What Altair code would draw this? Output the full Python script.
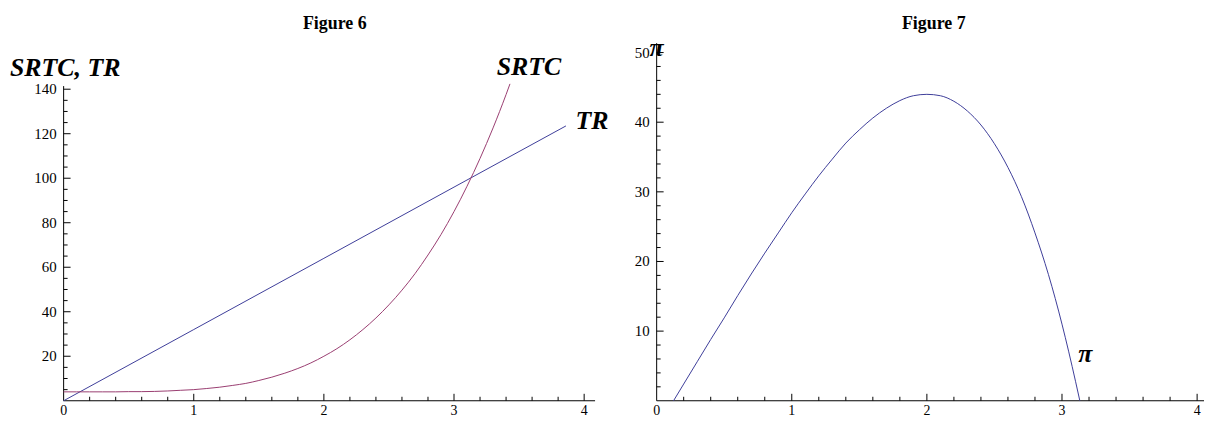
import altair as alt
import pandas as pd

# ---------------- data ----------------
# Figure 6
srtc_x = [0.0, 0.1, 0.2, 0.3, 0.4, 0.5, 0.6, 0.7, 0.8, 0.9, 1.0, 1.1, 1.2, 1.3, 1.4,
          1.5, 1.6, 1.7, 1.8, 1.9, 2.0, 2.1, 2.2, 2.3, 2.4, 2.5, 2.6, 2.7, 2.8, 2.9,
          3.0, 3.1, 3.2, 3.3, 3.4, 3.43]
srtc_y = [4.0, 4.0, 4.0, 4.0, 4.0, 4.1, 4.1, 4.2, 4.4, 4.7, 5.0, 5.5, 6.1, 6.9, 7.8,
          9.1, 10.6, 12.4, 14.5, 17.0, 20.0, 23.4, 27.4, 32.0, 37.2, 43.1, 49.7, 57.1,
          65.5, 74.7, 85.0, 96.4, 108.9, 122.6, 137.6, 142.4]
tr_x = [0.0, 1.0, 2.0, 3.0, 3.86]
tr_y = [0.0, 32.0, 64.0, 96.0, 123.5]

# Figure 7
pi_x = [0.125, 0.2, 0.3, 0.4, 0.5, 0.6, 0.7, 0.8, 0.9, 1.0, 1.1, 1.2, 1.3, 1.4, 1.5,
        1.6, 1.7, 1.8, 1.9, 2.0, 2.1, 2.2, 2.3, 2.4, 2.5, 2.6, 2.7, 2.8, 2.9, 3.0,
        3.1, 3.132]
pi_y = [0.0, 2.4, 5.6, 8.8, 11.9, 15.1, 18.2, 21.2, 24.1, 27.0, 29.7, 32.3, 34.7,
        37.0, 38.9, 40.6, 42.0, 43.1, 43.8, 44.0, 43.8, 43.0, 41.6, 39.6, 36.9, 33.5,
        29.3, 24.1, 18.1, 11.0, 2.8, 0.0]

# tick labels / tick positions
f6_x_labels = [0, 1, 2, 3, 4]
f6_y_labels = [20, 40, 60, 80, 100, 120, 140]
f6_x_minor = [0.2, 0.4, 0.6, 0.8, 1.2, 1.4, 1.6, 1.8, 2.2, 2.4, 2.6, 2.8, 3.2, 3.4, 3.6, 3.8]
f6_y_minor = [5, 10, 15, 25, 30, 35, 45, 50, 55, 65, 70, 75, 85, 90, 95, 105, 110, 115,
              125, 130, 135]
f7_x_labels = [0, 1, 2, 3, 4]
f7_y_labels = [10, 20, 30, 40, 50]
f7_x_minor = [0.2, 0.4, 0.6, 0.8, 1.2, 1.4, 1.6, 1.8, 2.2, 2.4, 2.6, 2.8, 3.2, 3.4, 3.6, 3.8]
f7_y_minor = [2, 4, 6, 8, 12, 14, 16, 18, 22, 24, 26, 28, 32, 34, 36, 38, 42, 44, 46, 48]

# axis extents
F6_X_MAX, F6_Y_MAX, F6_Y_AXIS_TOP = 4.084, 160.7, 141.4
F7_X_MAX, F7_Y_MAX = 4.051, 51.35

# ---------------- styling ----------------
FONT = "Liberation Serif"
BLUE = "#3D3D99"
PURPLE = "#993D71"
W, H = 1148, 360

lx = alt.Scale(domain=[0, F6_X_MAX], range=[0, 535], nice=False, zero=False)
ly = alt.Scale(domain=[0, F6_Y_MAX], range=[H, 0], nice=False, zero=False)
rx = alt.Scale(domain=[0, F7_X_MAX], range=[597, W], nice=False, zero=False)
ry = alt.Scale(domain=[0, F7_Y_MAX], range=[H, 0], nice=False, zero=False)

one = pd.DataFrame({"k": [0]})


def vals(lst):
    return pd.DataFrame({"v": lst})


def panel(xs, ys, x_max, y_top, x_labels, y_labels, x_minor, y_minor):
    layers = []
    # axis lines
    layers.append(alt.Chart(one).mark_rule(color="black", strokeWidth=1).encode(
        x=alt.XDatum(0, scale=xs), x2=alt.X2Datum(x_max), y=alt.YDatum(0, scale=ys)))
    layers.append(alt.Chart(one).mark_rule(color="black", strokeWidth=1).encode(
        x=alt.XDatum(0, scale=xs), y=alt.YDatum(0, scale=ys), y2=alt.Y2Datum(y_top)))
    # inward ticks
    major_x = [v for v in x_labels if v != 0]
    for lst, ln in ((major_x, -7), (x_minor, -4)):
        layers.append(alt.Chart(vals(lst)).mark_rule(color="black", strokeWidth=1, y2Offset=ln).encode(
            x=alt.X("v:Q", scale=xs, axis=None), y=alt.YDatum(0, scale=ys), y2=alt.Y2Datum(0)))
    for lst, ln in ((y_labels, 7), (y_minor, 4)):
        layers.append(alt.Chart(vals(lst)).mark_rule(color="black", strokeWidth=1, x2Offset=ln).encode(
            y=alt.Y("v:Q", scale=ys, axis=None), x=alt.XDatum(0, scale=xs), x2=alt.X2Datum(0)))
    # tick labels
    layers.append(alt.Chart(vals(x_labels)).mark_text(
        baseline="top", dy=3, font=FONT, fontSize=14, color="black").encode(
        x=alt.X("v:Q", scale=xs, axis=None), y=alt.YDatum(0, scale=ys), text="v:Q"))
    layers.append(alt.Chart(vals(y_labels)).mark_text(
        align="right", baseline="middle", dx=-7, font=FONT, fontSize=15, color="black").encode(
        y=alt.Y("v:Q", scale=ys, axis=None), x=alt.XDatum(0, scale=xs), text="v:Q"))
    return layers


def note(text, xs, ys, xv, yv, align="center"):
    return alt.Chart(one).mark_text(
        text=text, align=align, baseline="middle", font=FONT, fontSize=26,
        fontWeight="bold", fontStyle="italic", color="black").encode(
        x=alt.XDatum(xv, scale=xs), y=alt.YDatum(yv, scale=ys))


def title(text, xpix):
    return alt.Chart(one).mark_text(
        text=text, align="center", baseline="alphabetic", font=FONT, fontSize=18,
        fontWeight="bold", color="black").encode(x=alt.value(xpix), y=alt.value(-14))


srtc_df = pd.DataFrame({"x": srtc_x, "y": srtc_y})
tr_df = pd.DataFrame({"x": tr_x, "y": tr_y})
pi_df = pd.DataFrame({"x": pi_x, "y": pi_y})

layers = []
layers += panel(lx, ly, F6_X_MAX, F6_Y_AXIS_TOP, f6_x_labels, f6_y_labels, f6_x_minor, f6_y_minor)
layers.append(alt.Chart(tr_df).mark_line(color=BLUE, strokeWidth=1).encode(
    x=alt.X("x:Q", scale=lx, axis=None), y=alt.Y("y:Q", scale=ly, axis=None)))
layers.append(alt.Chart(srtc_df).mark_line(color=PURPLE, strokeWidth=1, interpolate="monotone").encode(
    x=alt.X("x:Q", scale=lx, axis=None), y=alt.Y("y:Q", scale=ly, axis=None)))
layers.append(note("SRTC, TR", lx, ly, -0.412, 149.7, align="left"))
layers.append(note("SRTC", lx, ly, 3.576, 150.0))
layers.append(note("TR", lx, ly, 4.061, 125.9))
layers.append(title("Figure 6", 273))

layers += panel(rx, ry, F7_X_MAX, F7_Y_MAX, f7_x_labels, f7_y_labels, f7_x_minor, f7_y_minor)
layers.append(alt.Chart(pi_df).mark_line(color=BLUE, strokeWidth=1, interpolate="monotone").encode(
    x=alt.X("x:Q", scale=rx, axis=None), y=alt.Y("y:Q", scale=ry, axis=None)))
layers.append(note("π", rx, ry, 0.0, 50.7))
layers.append(note("π", rx, ry, 3.173, 6.7))
layers.append(title("Figure 7", 876))

chart = alt.layer(*layers).resolve_scale(x="independent", y="independent").properties(
    width=W, height=H,
    padding={"left": 56, "top": 34, "right": 0, "bottom": 19},
    autosize=alt.AutoSizeParams(type="none"),
).configure_view(stroke=None).configure_axis(disable=True)

chart.save("out.html", embed_options={"renderer": "svg", "actions": False})
